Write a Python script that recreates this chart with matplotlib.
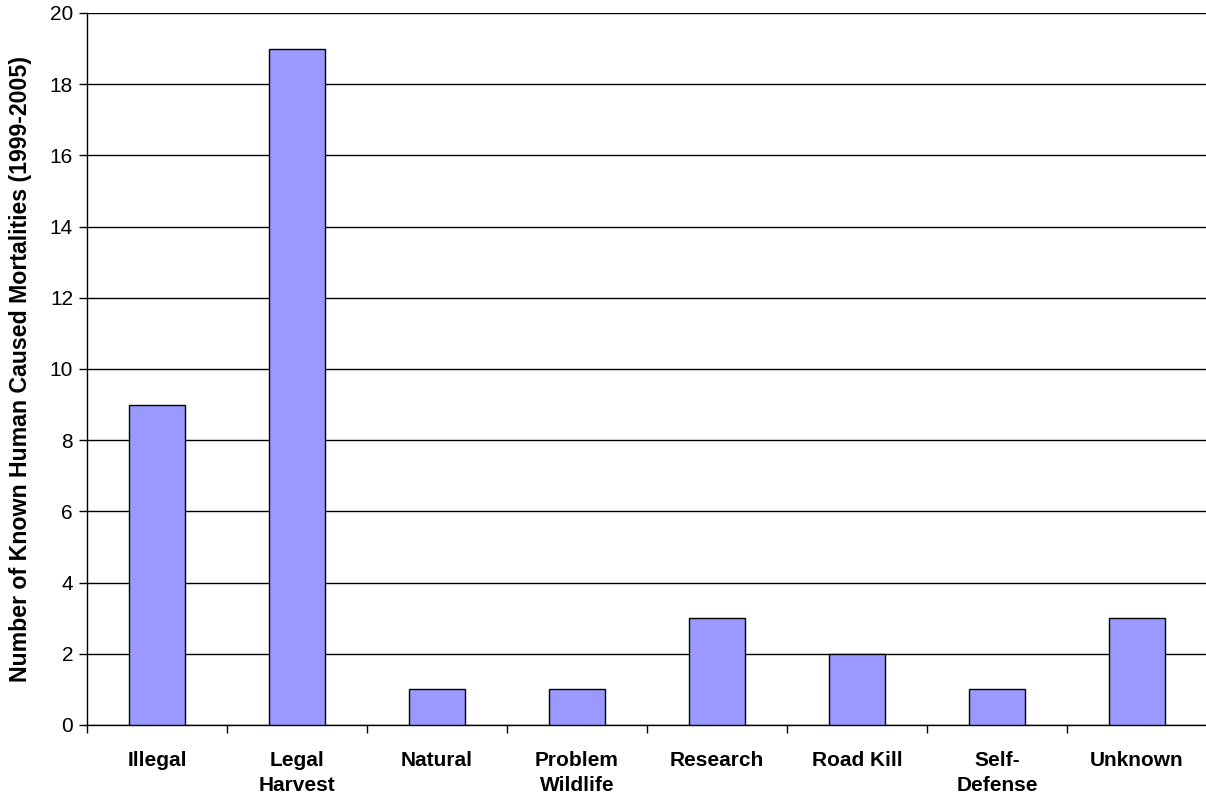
import numpy as np
from matplotlib import pyplot as plt

categories = ["Illegal", "Legal\nHarvest", "Natural", "Problem\nWildlife",
              "Research", "Road Kill", "Self-\nDefense", "Unknown"]
mortalities = [9, 19, 1, 1, 3, 2, 1, 3]

plt.rcParams['font.family'] = ['Liberation Sans', 'DejaVu Sans']

fig = plt.figure(figsize=(12.06, 8.01), dpi=100)
ax = fig.add_axes([87 / 1206, 1 - 725 / 801, 1120 / 1206, 712 / 801])

x = np.arange(len(categories))
ax.bar(x, mortalities, width=0.4, color="#9999FF", edgecolor="black", linewidth=1, zorder=3)

ax.set_xlim(-0.5, len(categories) - 0.5)
ax.set_ylim(0, 20)
ax.set_yticks(np.arange(0, 21, 2))
ax.yaxis.grid(True, color="black", linewidth=1, zorder=0)

# category labels centred, ticks at the boundaries
ax.set_xticks(x)
ax.set_xticklabels(categories, fontsize=15, fontweight="bold", linespacing=1.4)
ax.tick_params(axis="x", length=0, pad=19)
ax.set_xticks(np.arange(-0.5, len(categories)), minor=True)
ax.tick_params(axis="x", which="minor", length=6, direction="out", width=1)
ax.tick_params(axis="y", length=6, width=1, labelsize=15, pad=4)

for side in ["top", "right"]:
    ax.spines[side].set_visible(False)
ax.spines["left"].set_linewidth(1)
ax.spines["bottom"].set_linewidth(1)

ax.set_ylabel("Number of Known Human Caused Mortalities (1999-2005)",
              fontsize=16.7, fontweight="bold", labelpad=13)

fig.savefig("out.png", dpi=100)
